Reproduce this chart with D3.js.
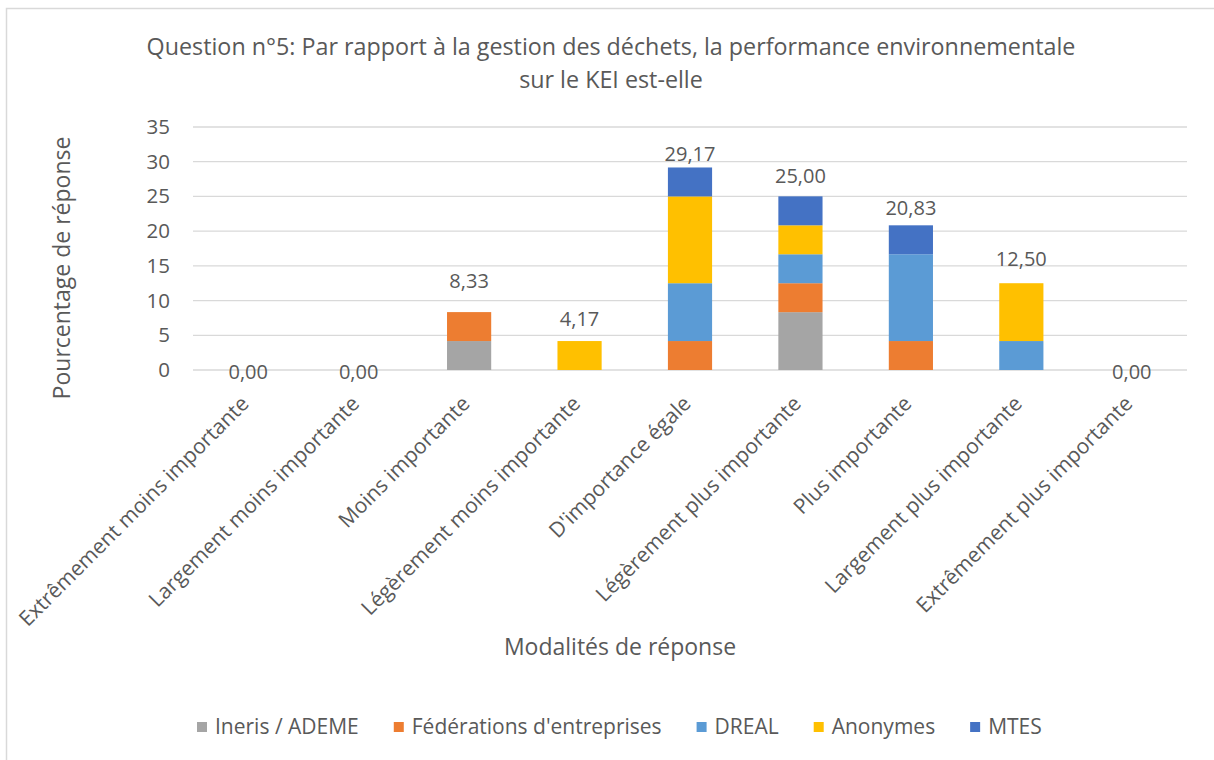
<!DOCTYPE html>
<html>
<head>
<meta charset="utf-8">
<script src="https://cdn.jsdelivr.net/npm/d3@7"></script>
<style>
  html, body { margin: 0; padding: 0; background: #fff; }
  svg text { font-family: "Open Sans", "DejaVu Sans", sans-serif; fill: #595959; }
</style>
</head>
<body>
<svg id="chart" width="1214" height="760"></svg>
<script>
// Response categories (x axis)
const categories = [
  "Extrêmement moins importante",
  "Largement moins importante",
  "Moins importante",
  "Légèrement moins importante",
  "D'importance égale",
  "Légèrement plus importante",
  "Plus importante",
  "Largement plus importante",
  "Extrêmement plus importante"
];

// Respondent groups (stack order, bottom to top)
const seriesNames = ["Ineris / ADEME", "Fédérations d'entreprises", "DREAL", "Anonymes", "MTES"];

// Percentage of responses per group, one value per category
const ineris      = [0, 0, 4.17, 0,    0,    8.33, 0,     0,    0];
const federations = [0, 0, 4.17, 0,    4.17, 4.17, 4.17,  0,    0];
const dreal       = [0, 0, 0,    0,    8.33, 4.17, 12.50, 4.17, 0];
const anonymes    = [0, 0, 0,    4.17, 12.50, 4.17, 0,    8.33, 0];
const mtes        = [0, 0, 0,    0,    4.17, 4.17, 4.17,  0,    0];

// Totals shown above each bar
const totals = [0.00, 0.00, 8.33, 4.17, 29.17, 25.00, 20.83, 12.50, 0.00];

// Y axis ticks
const yTicks = [0, 5, 10, 15, 20, 25, 30, 35];

const colors = ["#A5A5A5", "#ED7D31", "#5B9BD5", "#FFC000", "#4472C4"];

// Vertical gap (px) between each bar top and its total label
const labelGap = [-9, -9, 24, 15, 6, 13, 10, 17, -9];

const svg = d3.select("#chart");

// chart frame
svg.append("rect")
  .attr("x", 6.5).attr("y", 8.5)
  .attr("width", 1214).attr("height", 760)
  .attr("fill", "#fff").attr("stroke", "#D9D9D9").attr("stroke-width", 1.5);

const plot = { left: 193, right: 1187, top: 127, bottom: 370 };

const x = d3.scaleBand()
  .domain(categories)
  .range([plot.left, plot.right])
  .paddingInner(0.6).paddingOuter(0.3);

const y = d3.scaleLinear().domain([0, 35]).range([plot.bottom, plot.top]);

// gridlines
svg.append("g")
  .selectAll("line")
  .data(yTicks)
  .join("line")
  .attr("x1", plot.left).attr("x2", plot.right)
  .attr("y1", d => y(d)).attr("y2", d => y(d))
  .attr("stroke", "#D9D9D9").attr("stroke-width", 1.3);

// y axis labels
const yAxis = svg.append("g")
  .attr("transform", `translate(${plot.left},0)`)
  .call(d3.axisLeft(y).tickValues(yTicks).tickSize(0).tickPadding(23).tickFormat(d3.format("d")));
yAxis.select(".domain").remove();
yAxis.selectAll("text")
  .style("font-size", "20.5px")
  .style("font-family", "\"Open Sans\", sans-serif")
  .attr("fill", "#595959");

// stacked bars
const rows = categories.map((c, i) => ({
  cat: c,
  "Ineris / ADEME": ineris[i],
  "Fédérations d'entreprises": federations[i],
  "DREAL": dreal[i],
  "Anonymes": anonymes[i],
  "MTES": mtes[i]
}));
const stacked = d3.stack().keys(seriesNames)(rows);

svg.append("g")
  .selectAll("g")
  .data(stacked)
  .join("g")
  .attr("fill", (d, i) => colors[i])
  .selectAll("rect")
  .data(d => d.filter(s => s[1] - s[0] > 0))
  .join("rect")
  .attr("x", d => x(d.data.cat))
  .attr("width", x.bandwidth())
  .attr("y", d => y(d[1]))
  .attr("height", d => y(d[0]) - y(d[1]));

// total labels
const fmt = v => v.toFixed(2).replace(".", ",");
svg.append("g")
  .selectAll("text")
  .data(totals)
  .join("text")
  .attr("x", (d, i) => x(categories[i]) + x.bandwidth() / 2)
  .attr("y", (d, i) => y(d) - labelGap[i])
  .attr("text-anchor", "middle")
  .style("font-size", "20px")
  .text(d => fmt(d));

// category labels, rotated
svg.append("g")
  .selectAll("text")
  .data(categories)
  .join("text")
  .attr("transform", d => `translate(${x(d) + x.bandwidth() / 2 + 2},${plot.bottom + 35}) rotate(-45)`)
  .attr("text-anchor", "end")
  .style("font-size", "21px")
  .text(d => d);

// axis titles
svg.append("text")
  .attr("x", 620).attr("y", 655)
  .attr("text-anchor", "middle")
  .style("font-size", "23px")
  .text("Modalités de réponse");

svg.append("text")
  .attr("transform", "translate(70,268) rotate(-90)")
  .attr("text-anchor", "middle")
  .style("font-size", "23px")
  .text("Pourcentage de réponse");

// title
const title = svg.append("text")
  .attr("text-anchor", "middle")
  .style("font-size", "23.3px");
title.append("tspan").attr("x", 611).attr("y", 55)
  .text("Question n°5: Par rapport à la gestion des déchets, la performance environnementale");
title.append("tspan").attr("x", 611).attr("y", 88)
  .text("sur le KEI est-elle");

// legend
const legend = svg.append("g").attr("transform", "translate(0,727)");
let lx = 197;
seriesNames.forEach((name, i) => {
  legend.append("rect")
    .attr("x", lx).attr("y", -5)
    .attr("width", 10).attr("height", 10)
    .attr("fill", colors[i]);
  const t = legend.append("text")
    .attr("x", lx + 18).attr("y", 0)
    .attr("dy", "0.35em")
    .style("font-size", "21px")
    .text(name);
  lx += 18 + t.node().getComputedTextLength() + 35;
});
</script>
</body>
</html>
